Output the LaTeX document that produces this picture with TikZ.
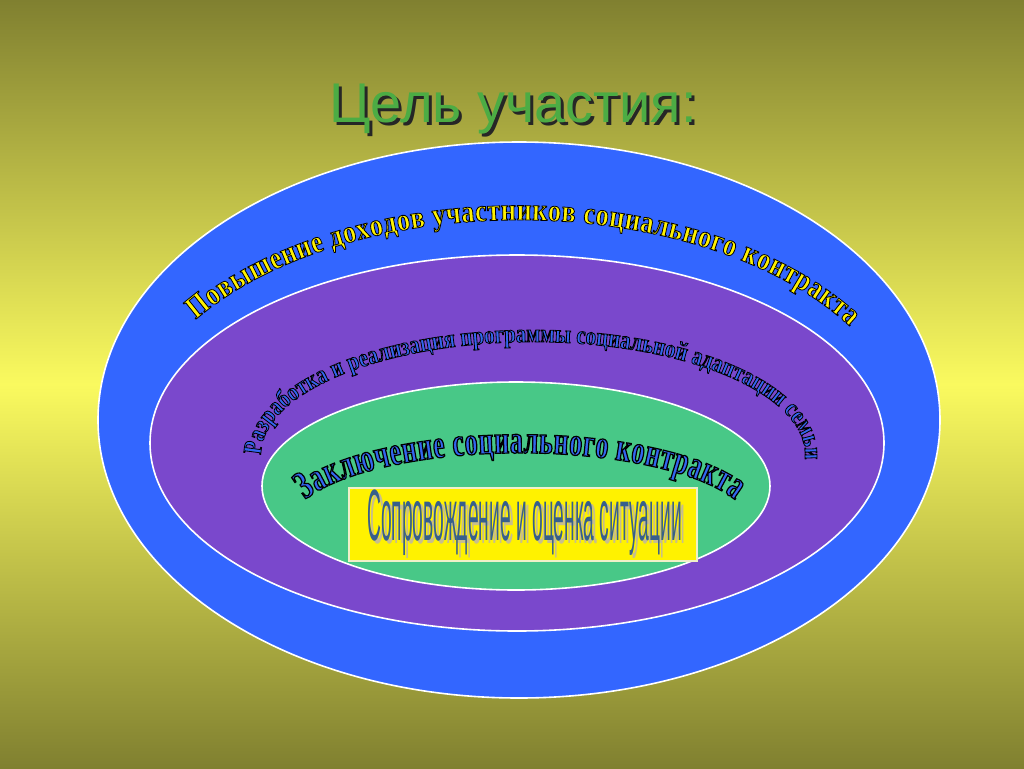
\documentclass[tikz,border=0pt]{standalone}
\usepackage{fontspec}
\usepackage{graphicx}
\setmainfont{Liberation Serif}
\newfontfamily\titlefont{Liberation Sans}
\newfontfamily\arcA[FakeStretch=0.84]{Liberation Serif}
\newfontfamily\arcB[FakeStretch=0.8]{Liberation Serif}
\newfontfamily\arcC[FakeStretch=0.65]{Liberation Serif}
\usetikzlibrary{decorations.text}
\definecolor{bgolive}{RGB}{128,128,48}
\definecolor{bgyellow}{RGB}{250,250,95}
\definecolor{ringblue}{RGB}{51,102,255}
\definecolor{ringpurple}{RGB}{122,72,204}
\definecolor{ringgreen}{RGB}{72,200,135}
\definecolor{titlegreen}{RGB}{76,172,68}
\definecolor{slatetext}{RGB}{55,95,140}
\definecolor{tanshadow}{RGB}{200,190,140}
\definecolor{boxedge}{RGB}{240,240,200}
\definecolor{arcblue}{RGB}{51,102,240}
\newcommand\outlthin{\special{pdf:literal direct 0 0 0 RG 2 Tr 0.6 w}}
\newcommand\outlthick{\special{pdf:literal direct 0 0 0 RG 2 Tr 0.9 w}}
\tikzset{
  ring/.style={draw=white, line width=1.2pt},
  arctext/.style={decorate, decoration={text along path, text align={fit to path}, text={#1}}},
  titletext/.style={font=\titlefont\fontsize{42}{48}\selectfont, anchor=base, inner sep=0pt},
  situtext/.style={anchor=base west, inner sep=0pt}
}
\begin{document}
\begin{tikzpicture}[x=0.75pt, y=-0.75pt]
\useasboundingbox (0,0) rectangle (1024,768);
\shade[top color=bgolive, bottom color=bgolive, middle color=bgyellow] (0,0) rectangle (1024,768);

% title
\node[titletext, text=black!85] (titleshadow) at (516,125) {Цель участия:};
\node[titletext, text=titlegreen] (title) at (513,122) {Цель участия:};

% rings
\draw[ring, fill=ringblue] (519,420) ellipse [x radius=421, y radius=278];
\draw[ring, fill=ringpurple] (517,443) ellipse [x radius=367, y radius=188];
\draw[ring, fill=ringgreen] (516,486) ellipse [x radius=254, y radius=104];

% inner box
\node[draw=boxedge, line width=0.8pt, fill=yellow, minimum width=261pt, minimum height=54.75pt, inner sep=0pt] (box) at (523,524.5) {};
\node[situtext, text=tanshadow] (situshadow) at (370,543) {\resizebox{236pt}{38pt}{\titlefont Сопровождение и оценка ситуации}};
\node[situtext, text=slatetext] (situ) at (367,540) {\resizebox{236pt}{38pt}{\titlefont Сопровождение и оценка ситуации}};

% curved texts
\begin{scope}
\path[arctext={|\arcA\bfseries\fontsize{23.5}{26}\selectfont\color{yellow}\outlthin|Повышение доходов участников социального контракта}]
  (519,446) ++(214:390 and 226) coordinate (arcAstart) arc[start angle=214, end angle=328, x radius=390, y radius=226];
\end{scope}
\begin{scope}
\path[arctext={|\arcB\bfseries\fontsize{19.5}{22}\selectfont\color{arcblue}\outlthin|Разработка и реализация программы социальной адаптации семьи}]
  (533,455) ++(180:272 and 113) coordinate (arcBstart) arc[start angle=180, end angle=360, x radius=272, y radius=113];
\end{scope}
\begin{scope}
\path[arctext={|\arcC\bfseries\fontsize{30}{32}\selectfont\color{arcblue}\outlthick|Заключение социального контракта}]
  (520,528) ++(202:232 and 75) coordinate (arcCstart) arc[start angle=202, end angle=338, x radius=232, y radius=75];
\end{scope}
\end{tikzpicture}
\end{document}
